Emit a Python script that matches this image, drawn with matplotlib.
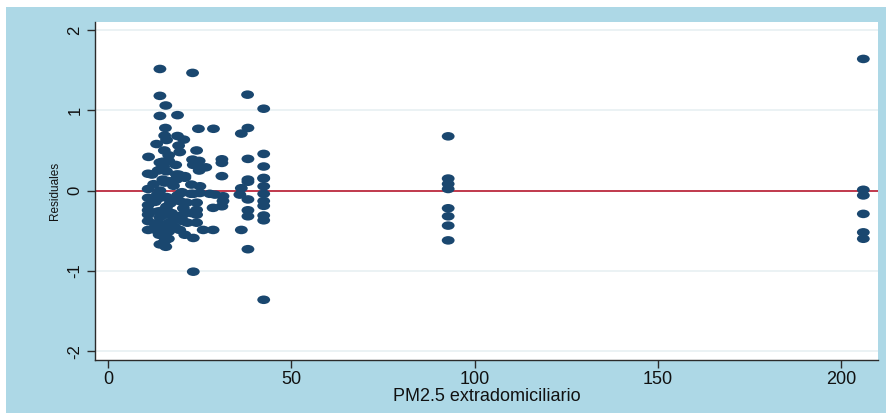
import matplotlib
matplotlib.use("Agg")
import matplotlib.pyplot as plt
from matplotlib.markers import MarkerStyle
from matplotlib.transforms import Affine2D
from matplotlib.patches import Rectangle

# PM2.5 extradomiciliario (x) y residuales (y)
pm25 = [
    14.2, 23.1, 14.2, 38.1, 15.8, 42.5, 14.2, 19.0, 15.7, 24.7,
    28.8, 38.2, 36.4, 15.5, 19.0, 20.7, 16.0, 13.3, 19.3, 15.4,
    24.2, 11.1, 42.5, 16.6, 14.2, 23.1, 24.9, 31.1, 31.1, 38.2,
    42.5, 23.3, 25.1, 26.7, 11.0, 13.7, 16.0, 18.7, 21.0, 31.1,
    38.2, 42.5, 24.9, 38.2, 42.5, 42.5, 36.4, 15.0, 16.7, 18.7,
    22.8, 25.1, 20.0, 23.3, 25.1, 27.8, 29.2, 31.4, 11.0, 14.2,
    16.9, 36.0, 38.2, 42.5, 42.5, 42.5, 31.4, 31.1, 24.2, 21.5,
    19.6, 11.0, 13.7, 16.0, 17.4, 24.2, 24.2, 22.8, 28.7, 38.2,
    38.2, 42.5, 42.5, 11.0, 13.7, 16.6, 20.5, 24.2, 11.0, 13.7,
    16.6, 19.6, 21.0, 23.3, 26.0, 28.7, 36.4, 15.5, 15.5, 14.2,
    15.8, 38.2, 23.3, 42.5,
    # nube densa
    15.0, 16.6, 19.6, 12.0, 14.2, 19.3, 21.0, 15.5, 17.9, 11.0,
    14.2, 20.2, 22.7, 11.0, 12.9, 16.0, 19.0, 16.0, 20.6, 11.0,
    14.2, 16.0, 19.0, 20.5, 21.7, 15.0, 13.0, 17.5, 18.0, 14.0,
    16.5, 12.5, 15.2, 18.5, 17.0, 13.5, 16.2, 14.8, 18.2, 15.8,
    # x = 92.7
    92.8, 92.8, 92.8, 92.8, 92.8, 92.8, 92.8, 92.8,
    # x = 206
    206.0, 206.0, 206.0, 206.0, 206.0, 206.0,
]
residuales = [
    1.515, 1.466, 1.18, 1.195, 1.06, 1.02, 0.93, 0.94, 0.78, 0.77,
    0.77, 0.78, 0.71, 0.685, 0.68, 0.635, 0.63, 0.58, 0.56, 0.50,
    0.50, 0.42, 0.457, 0.37, 0.35, 0.386, 0.37, 0.39, 0.345, 0.395,
    0.30, 0.32, 0.28, 0.29, 0.21, 0.25, 0.24, 0.20, 0.18, 0.18,
    0.137, 0.158, 0.25, 0.11, 0.15, 0.054, 0.03, 0.137, 0.116, 0.137,
    0.075, 0.054, -0.03, -0.04, -0.03, -0.04, -0.05, -0.07, -0.09, -0.09,
    -0.11, -0.05, -0.11, -0.04, -0.13, -0.19, -0.13, -0.195, -0.15, -0.15,
    -0.13, -0.245, -0.26, -0.24, -0.28, -0.24, -0.30, -0.28, -0.215, -0.245,
    -0.32, -0.31, -0.37, -0.38, -0.40, -0.40, -0.38, -0.40, -0.49, -0.51,
    -0.51, -0.49, -0.55, -0.59, -0.49, -0.49, -0.49, -0.57, -0.63, -0.67,
    -0.70, -0.73, -1.01, -1.36,
    # nube densa
    0.36, 0.44, 0.48, 0.20, 0.26, 0.20, 0.16, 0.10, 0.06, 0.02,
    0.00, -0.02, -0.04, -0.18, -0.14, -0.08, -0.06, -0.20, -0.22, -0.30,
    -0.33, -0.30, -0.32, -0.30, -0.40, -0.44, -0.44, -0.44, -0.36, -0.55,
    -0.60, 0.08, 0.30, 0.32, -0.16, -0.05, 0.12, -0.25, -0.45, -0.58,
    # x = 92.7
    0.676, 0.15, 0.083, 0.02, -0.22, -0.32, -0.436, -0.62,
    # x = 206
    1.64, 0.01, -0.06, -0.29, -0.52, -0.60,
]

xticks = [0, 50, 100, 150, 200]
yticks = [-2, -1, 0, 1, 2]

navy = "#1a476f"
fondo = "#add8e6"

plt.rcParams["font.family"] = ["Liberation Sans", "DejaVu Sans"]

fig = plt.figure(figsize=(8.87, 4.13), dpi=100)
fig.patch.set_facecolor("white")
# marco azul del grafico
marco = Rectangle((6 / 887, 0), 1, 1 - 7 / 413, transform=fig.transFigure,
                  facecolor=fondo, edgecolor="none", zorder=-10)
fig.add_artist(marco)

ax = fig.add_axes([95 / 887, 1 - 360 / 413, 783 / 887, 338 / 413])
ax.set_facecolor("white")
ax.set_zorder(1)

for g in [-2, -1, 1, 2]:
    ax.axhline(g, color="#e8f0f2", lw=1.2, zorder=1)
ax.axhline(0, color="#b5172e", lw=1.2, zorder=2)

elipse = MarkerStyle("o", transform=Affine2D().scale(1.5, 1.0))
ax.scatter(pm25, residuales, marker=elipse, s=38, color=navy,
           edgecolors="none", zorder=3)

ax.set_xlim(-3.5, 210)
ax.set_ylim(-2.11, 2.1)
ax.set_xticks(xticks)
ax.set_yticks(yticks)
ax.set_yticklabels([str(t) for t in yticks], rotation=90, va="center")

for s in ["top", "right"]:
    ax.spines[s].set_visible(False)
for s in ["left", "bottom"]:
    ax.spines[s].set_color("#2b2b2b")
    ax.spines[s].set_linewidth(1.0)
ax.tick_params(axis="both", direction="out", length=6, width=1,
               color="#2b2b2b", labelcolor="#111111")
ax.tick_params(axis="x", labelsize=13, pad=2)
ax.tick_params(axis="y", labelsize=12, pad=3)

ax.set_xlabel("PM2.5 extradomiciliario", fontsize=13, color="#111111",
              labelpad=0)
ax.set_ylabel("Residuales", fontsize=8.5, color="#111111", labelpad=5)

fig.savefig("out.png", dpi=100, facecolor=fig.get_facecolor())
